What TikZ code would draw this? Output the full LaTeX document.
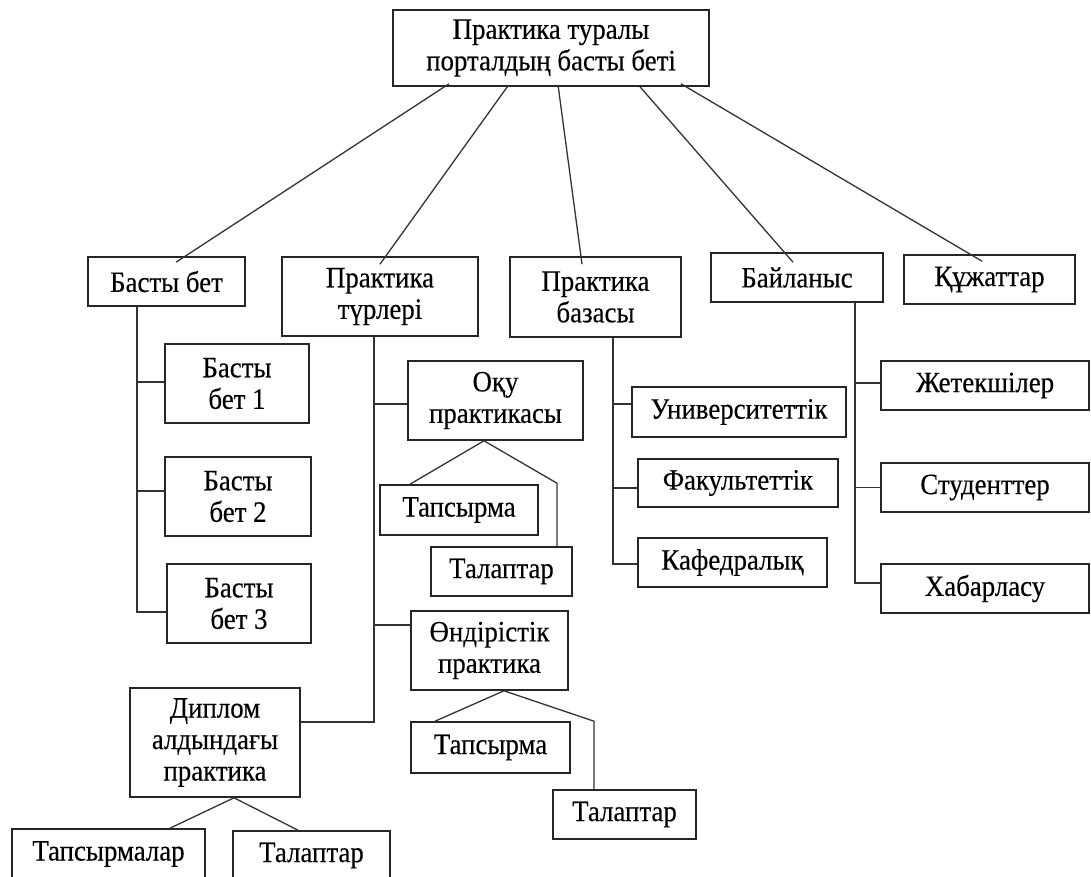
\documentclass[tikz,border=0pt]{standalone}
\usepackage{fontspec}
\setmainfont{Liberation Serif}[FakeStretch=0.91,FakeBold=0.3]
\begin{document}
\begin{tikzpicture}[x=1pt,y=-1pt,
  box/.style={draw=black!85,line width=1.6pt,fill=white,inner sep=0pt,align=center,anchor=center,
    font=\fontsize{29.5}{31.5}\selectfont},
  conn/.style={draw=black!80,line width=1.3pt}]
\clip (0,0) rectangle (1091,877);
\useasboundingbox (0,0) rectangle (1091,877);
% top
\node[box,minimum width=316pt,minimum height=76pt] (top) at (551,48) {Практика туралы\\порталдың басты беті};
% second row
\node[box,minimum width=157pt,minimum height=49pt] (bb) at (166.5,281.5) {Басты бет};
\node[box,minimum width=196pt,minimum height=79pt] (pt) at (380,296.5) {Практика\\түрлері};
\node[box,minimum width=171pt,minimum height=80pt] (pb) at (595.5,297) {Практика\\базасы};
\node[box,minimum width=172pt,minimum height=49pt] (bl) at (797,277.5) {Байланыс};
\node[box,minimum width=171pt,minimum height=49pt] (kz) at (989.5,279.5) {Құжаттар};
% Basty bet children
\node[box,minimum width=144pt,minimum height=79pt] (b1) at (237,383.5) {Басты\\бет 1};
\node[box,minimum width=146pt,minimum height=79pt] (b2) at (238,496.5) {Басты\\бет 2};
\node[box,minimum width=144pt,minimum height=79pt] (b3) at (239,603.5) {Басты\\бет 3};
% Praktika turleri children
\node[box,minimum width=175pt,minimum height=79pt] (ok) at (495.5,400.5) {Оқу\\практикасы};
\node[box,minimum width=158pt,minimum height=50pt] (okT) at (459,510) {Тапсырма};
\node[box,minimum width=141pt,minimum height=49pt] (okL) at (501.5,571.5) {Талаптар};
\node[box,minimum width=157pt,minimum height=79pt] (on) at (489.5,650.5) {Өндірістік\\практика};
\node[box,minimum width=159pt,minimum height=51pt] (onT) at (490.5,747.5) {Тапсырма};
\node[box,minimum width=143pt,minimum height=49pt] (onL) at (624.5,814.5) {Талаптар};
\node[box,minimum width=170pt,minimum height=109pt] (dp) at (215,742.5) {Диплом\\алдындағы\\практика};
\node[box,minimum width=193pt,minimum height=50pt] (dpT) at (108.5,854) {Тапсырмалар};
\node[box,minimum width=157pt,minimum height=49pt] (dpL) at (311.5,855.5) {Талаптар};
% Praktika bazasy children
\node[box,minimum width=214pt,minimum height=50pt] (un) at (739,412) {Университеттік};
\node[box,minimum width=200pt,minimum height=48pt] (fk) at (738,483) {Факультеттік};
\node[box,minimum width=189pt,minimum height=49pt] (kf) at (732.5,562.5) {Кафедралық};
% Bailanys children
\node[box,minimum width=208pt,minimum height=49pt] (jt) at (985,385.5) {Жетекшілер};
\node[box,minimum width=208pt,minimum height=49pt] (st) at (985,487.5) {Студенттер};
\node[box,minimum width=208pt,minimum height=49pt] (hb) at (985,588.5) {Хабарласу};

% top connectors
\draw[conn] ([xshift=-102pt,yshift=3pt]top.south) -- ([xshift=9.5pt,yshift=-6pt]bb.north);
\draw[conn] ([xshift=-43pt,yshift=1pt]top.south) -- ([yshift=-8pt]pt.north);
\draw[conn] ([xshift=7pt,yshift=2pt]top.south) -- ([xshift=-13.5pt,yshift=-8pt]pb.north);
\draw[conn] ([xshift=89pt]top.south) -- ([xshift=-4pt,yshift=-10pt]bl.north);
\draw[conn] ([xshift=130pt,yshift=3pt]top.south) -- ([xshift=-7.5pt,yshift=-7pt]kz.north);

% Basty bet tree
\coordinate (bbv) at ([xshift=-29.5pt]bb.south);
\draw[conn] (bbv) |- ([yshift=-8.5pt]b3.west);
\draw[conn] ([yshift=1.5pt]b1.west) -- ([yshift=1.5pt]b1.west -| bbv);
\draw[conn] ([yshift=5.5pt]b2.west) -- ([yshift=5.5pt]b2.west -| bbv);

% Praktika turleri tree
\coordinate (ptv) at ([xshift=-6pt]pt.south);
\draw[conn] (ptv) |- ([yshift=20.5pt]dp.east);
\draw[conn] ([yshift=-3.5pt]ok.west) -- ([yshift=-3.5pt]ok.west -| ptv);
\draw[conn] ([yshift=25.5pt]on.west) -- ([yshift=25.5pt]on.west -| ptv);
% Oku children
\draw[conn] ([xshift=-49pt]okT.north) -- ([xshift=-11.5pt]ok.south) -- ([xshift=55.5pt,yshift=63pt]okL.north) -- ([xshift=55.5pt]okL.north);
% Ondiristik children
\draw[conn] ([xshift=-55.5pt]onT.north) -- ([xshift=14.5pt]on.south) -- ([xshift=-30.5pt,yshift=68pt]onL.north) -- ([xshift=-30.5pt]onL.north);
% Diplom children
\draw[conn] ([xshift=61.5pt]dpT.north) -- ([xshift=19pt]dp.south) -- ([xshift=-13.5pt]dpL.north);

% Praktika bazasy tree
\coordinate (pbv) at ([xshift=17.5pt]pb.south);
\draw[conn] (pbv) |- ([yshift=-1.5pt]kf.west);
\draw[conn] ([yshift=8pt]un.west) -- ([yshift=8pt]un.west -| pbv);
\draw[conn] ([yshift=-5pt]fk.west) -- ([yshift=-5pt]fk.west -| pbv);

% Bailanys tree
\coordinate (blv) at ([xshift=58pt]bl.south);
\draw[conn] (blv) |- ([yshift=5.5pt]hb.west);
\draw[conn] ([yshift=2.5pt]jt.west) -- ([yshift=2.5pt]jt.west -| blv);
\draw[conn] (st.west) -- (st.west -| blv);
\end{tikzpicture}
\end{document}
